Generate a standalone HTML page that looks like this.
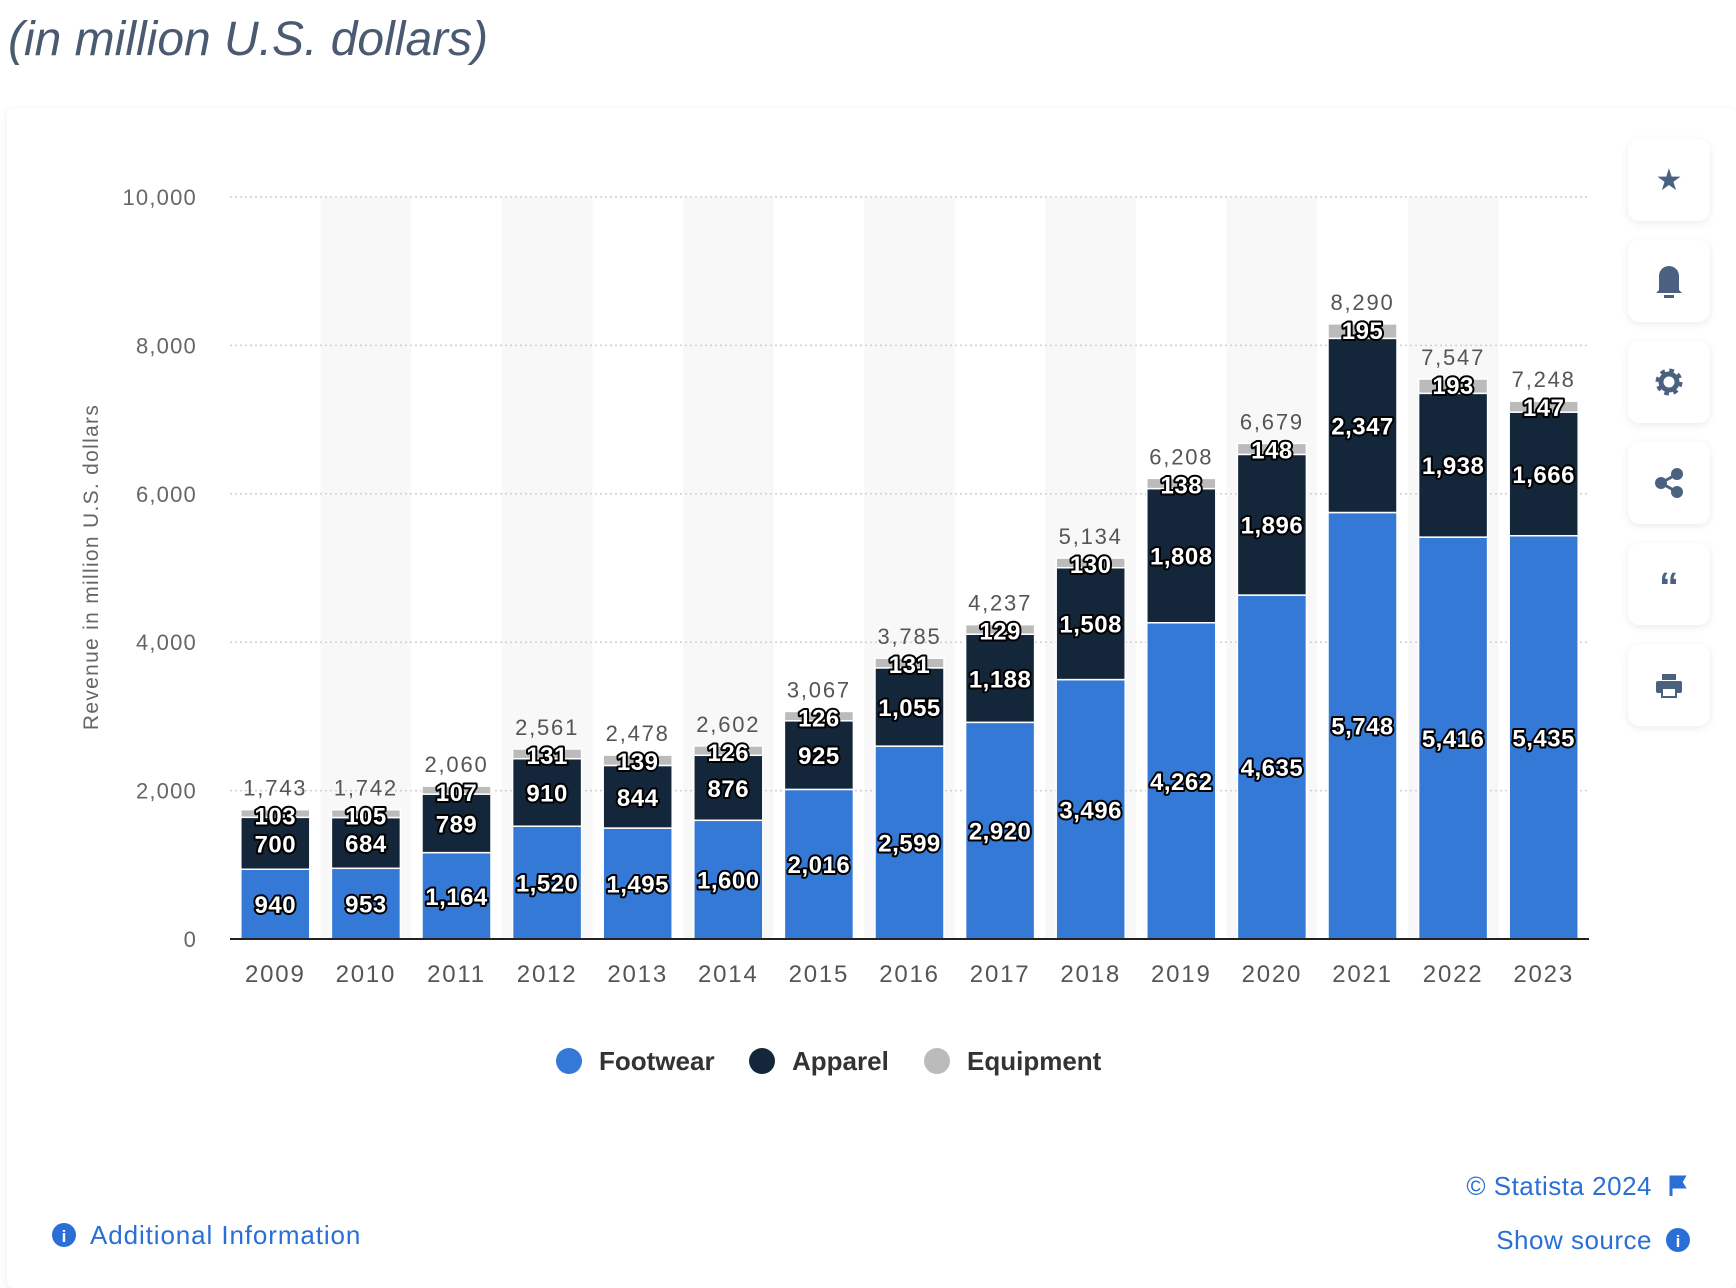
<!DOCTYPE html>
<html><head><meta charset="utf-8">
<style>
html,body{margin:0;padding:0;background:#f7f8fa;width:1736px;height:1288px;overflow:hidden;font-family:"Liberation Sans",sans-serif;}
svg{display:block}
</style></head>
<body>
<svg width="1736" height="1288" viewBox="0 0 1736 1288" xmlns="http://www.w3.org/2000/svg">
<defs>
<filter id="sh" x="-20%" y="-20%" width="140%" height="140%"><feDropShadow dx="0" dy="2" stdDeviation="4" flood-color="#000" flood-opacity="0.08"/></filter>
</defs>
<rect x="0" y="0" width="1736" height="1288" fill="#ffffff"/>
<text x="8" y="55" font-size="48" font-style="italic" fill="#4a5a70">(in million U.S. dollars)</text>
<rect x="7" y="108" width="1729" height="1180" rx="8" fill="#ffffff" filter="url(#sh)"/>
<g id="plot"></g>
<text transform="translate(98,567) rotate(-90)" text-anchor="middle" font-size="21" letter-spacing="1.3" fill="#666">Revenue in million U.S. dollars</text>
<g id="legend">
<circle cx="569" cy="1061" r="13" fill="#3479d6"/>
<text x="599" y="1070" font-size="26" font-weight="bold" fill="#333">Footwear</text>
<circle cx="762" cy="1061" r="13" fill="#13263a"/>
<text x="792" y="1070" font-size="26" font-weight="bold" fill="#333">Apparel</text>
<circle cx="937" cy="1061" r="13" fill="#bbbbbb"/>
<text x="967" y="1070" font-size="26" font-weight="bold" fill="#333">Equipment</text>
</g>
<g>
<g><rect x="1628" y="139" width="82" height="82" rx="12" fill="#fff" filter="url(#sh)"/><text x="1669" y="190" text-anchor="middle" font-size="30" fill="#4a6280">★</text></g>
<g><rect x="1628" y="240" width="82" height="82" rx="12" fill="#fff" filter="url(#sh)"/><path d="M1659 290 L1659 276 A10 10 0 0 1 1679 276 L1679 290 L1682 293 L1656 293 Z" fill="#4a6280"/><rect x="1664" y="295" width="10" height="3" fill="#4a6280"/></g>
<g><rect x="1628" y="341" width="82" height="82" rx="12" fill="#fff" filter="url(#sh)"/><circle cx="1669" cy="382" r="10" fill="none" stroke="#4a6280" stroke-width="7" stroke-dasharray="4 3.85"/><circle cx="1669" cy="382" r="8" fill="none" stroke="#4a6280" stroke-width="5"/></g>
<g><rect x="1628" y="442" width="82" height="82" rx="12" fill="#fff" filter="url(#sh)"/><circle cx="1661" cy="483" r="6" fill="#4a6280"/><circle cx="1677" cy="474" r="6" fill="#4a6280"/><circle cx="1677" cy="492" r="6" fill="#4a6280"/><path d="M1661 483 L1677 474 M1661 483 L1677 492" stroke="#4a6280" stroke-width="3"/></g>
<g><rect x="1628" y="543" width="82" height="82" rx="12" fill="#fff" filter="url(#sh)"/><text x="1669" y="600" text-anchor="middle" font-size="40" font-weight="bold" fill="#4a6280">“</text></g>
<g><rect x="1628" y="644" width="82" height="82" rx="12" fill="#fff" filter="url(#sh)"/><rect x="1662" y="674" width="14" height="6" fill="#4a6280"/><rect x="1656" y="681" width="26" height="12" rx="2" fill="#4a6280"/><rect x="1662" y="688" width="14" height="9" fill="#fff" stroke="#4a6280" stroke-width="2"/></g>
</g>
<g>
<circle cx="64" cy="1235" r="12" fill="#2a6fd6"/><text x="64" y="1242" text-anchor="middle" font-size="17" font-weight="bold" fill="#fff">i</text>
<text x="90" y="1244" font-size="26" letter-spacing="0.9" fill="#2a6fd6">Additional Information</text>
</g>
<text x="1652" y="1195" text-anchor="end" font-size="26" letter-spacing="0.5" fill="#2a6fd6">© Statista 2024</text>
<path d="M1671 1176 L1671 1196 M1671 1177 L1684 1177 L1681 1182 L1684 1187 L1671 1187 Z" stroke="#2a6fd6" stroke-width="3" fill="#2a6fd6"/>
<g>
<text x="1652" y="1249" text-anchor="end" font-size="26" letter-spacing="0.5" fill="#2a6fd6">Show source</text>
<circle cx="1678" cy="1240" r="12" fill="#2a6fd6"/><text x="1678" y="1247" text-anchor="middle" font-size="17" font-weight="bold" fill="#fff">i</text>
</g>
</svg>
<script>
const years = ["2009","2010","2011","2012","2013","2014","2015","2016","2017","2018","2019","2020","2021","2022","2023"];
const footwear = [940,953,1164,1520,1495,1600,2016,2599,2920,3496,4262,4635,5748,5416,5435];
const apparel = [700,684,789,910,844,876,925,1055,1188,1508,1808,1896,2347,1938,1666];
const equipment = [103,105,107,131,139,126,126,131,129,130,138,148,195,193,147];
const yTicks = [0,2000,4000,6000,8000,10000];

const NS = "http://www.w3.org/2000/svg";
const plot = document.getElementById("plot");
const X0 = 230, X1 = 1589, Y0 = 939, Y1 = 197, YMAX = 10000;
const band = (X1 - X0) / years.length;
const barW = 69;
const y = v => Y0 - (v / YMAX) * (Y0 - Y1);
const xc = i => X0 + band * (i + 0.5);
const fmt = v => v.toLocaleString("en-US");
function mk(tag, attrs, parent) {
  const e = document.createElementNS(NS, tag);
  for (const k in attrs) e.setAttribute(k, attrs[k]);
  (parent || plot).appendChild(e);
  return e;
}
years.forEach((yr, i) => {
  if (i % 2 === 1) {
    const b = mk("rect", {x: X0 + band * i, y: Y1, width: band, height: Y0 - Y1, fill: "#f8f8f9"});
    
    
  }
});
yTicks.forEach(t => {
  if (t > 0) {
    const g = mk("line", {x1: X0, x2: X1, y1: y(t), y2: y(t), stroke: "#cfcfcf", "stroke-width": 1.5, "stroke-dasharray": "2 3"});
    
    
  }
  const l = mk("text", {x: 197, y: y(t) + 8, "text-anchor": "end", "font-size": 22, "letter-spacing": 1.2, fill: "#666"});
  l.textContent = fmt(t);
  
  
});
const series = [
  {name: "footwear", data: footwear, color: "#3479d6"},
  {name: "apparel", data: apparel, color: "#13263a"},
  {name: "equipment", data: equipment, color: "#bbbbbb"}
];
const labelStyle = "paint-order:stroke;stroke:#000;stroke-width:4px;stroke-linejoin:round;";
years.forEach((yr, i) => {
  let base = 0;
  const x = xc(i) - barW / 2;
  series.forEach(s => {
    const v = s.data[i];
    const top = base + v;
    const r = mk("rect", {x: x, y: y(top), width: barW, height: y(base) - y(top), fill: s.color, stroke: "#fff", "stroke-width": 1.5});
    
    
    base = top;
  });
  let b2 = 0;
  series.forEach(s => {
    const v = s.data[i];
    let cy = (y(b2) + y(b2 + v)) / 2;
    if (s.name === "equipment") cy = y(b2 + v) + 6;
    const t = mk("text", {x: xc(i), y: cy + 9, "text-anchor": "middle", "font-size": 24, "font-weight": "bold", "letter-spacing": 0.5, fill: "#fff", style: labelStyle});
    t.textContent = fmt(v);
    
    
    b2 += v;
  });
  const tot = mk("text", {x: xc(i), y: y(b2) - 14, "text-anchor": "middle", "font-size": 22, "letter-spacing": 1.8, fill: "#555"});
  tot.textContent = fmt(b2);
  
  
  const xl = mk("text", {x: xc(i), y: 982, "text-anchor": "middle", "font-size": 24, "letter-spacing": 1.8, fill: "#555"});
  xl.textContent = yr;
  
  
});
const ax = mk("line", {x1: X0, x2: X1, y1: Y0, y2: Y0, stroke: "#222", "stroke-width": 2});


</script>
</body></html>
